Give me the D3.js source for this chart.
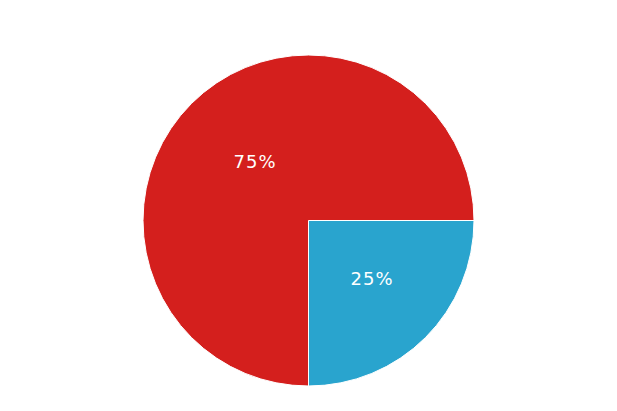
<!DOCTYPE html>
<html>
<head>
<meta charset="utf-8">
<script src="https://cdn.jsdelivr.net/npm/d3@7"></script>
<style>
  body { margin: 0; background: #fff; }
</style>
</head>
<body>
<svg width="617" height="411"></svg>
<script>
const svg = d3.select('svg');

// data
const labels = ['B', 'A'];
const values = [25, 75];
const colors = ['#29a4ce', '#d41f1d'];

const cx = 308.5, cy = 220.5, radius = 165.5;

const pie = d3.pie()
    .sort(null)
    .value(d => d)
    .startAngle(Math.PI / 2)
    .endAngle(Math.PI / 2 + 2 * Math.PI);

const arc = d3.arc().innerRadius(0).outerRadius(radius);

const g = svg.append('g')
    .attr('transform', `translate(${cx},${cy})`);

const total = d3.sum(values);
const arcs = pie(values);

g.selectAll('path')
    .data(arcs)
    .enter()
    .append('path')
    .attr('d', arc)
    .attr('fill', (d, i) => colors[i])
    .attr('stroke', '#fff')
    .attr('stroke-width', 1);

// percentage labels
g.selectAll('text')
    .data(arcs)
    .enter()
    .append('text')
    .attr('transform', d => {
        const c = arc.centroid(d);
        return `translate(${c[0] + 5},${c[1]})`;
    })
    .attr('text-anchor', 'middle')
    .attr('dy', '0.36em')
    .attr('fill', '#fff')
    .attr('font-family', 'DejaVu Sans, sans-serif')
    .attr('font-size', 18)
    .attr('letter-spacing', 1)
    .text(d => Math.round(d.value / total * 100) + '%');
</script>
</body>
</html>
